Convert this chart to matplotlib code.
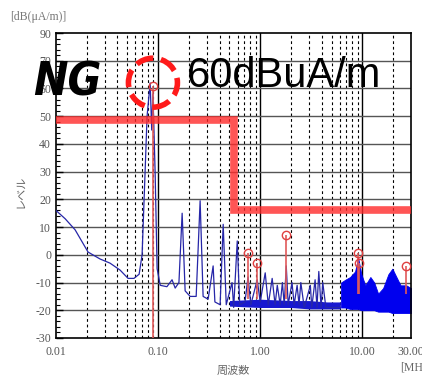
import numpy as np
import matplotlib.pyplot as plt
from matplotlib.patches import Circle
from matplotlib.transforms import ScaledTranslation
from matplotlib.ticker import FixedLocator, NullFormatter

# --------------------------
# data
# --------------------------
# main trace (MHz, dB(uA/m))
trace_f = [0.010, 0.0123, 0.0154, 0.0206, 0.027, 0.0338, 0.0424, 0.0508, 0.058, 0.0652,
           0.0697, 0.0746, 0.078, 0.0836, 0.0866, 0.089, 0.0935, 0.0978, 0.105, 0.122,
           0.137, 0.147, 0.160, 0.172, 0.184, 0.206, 0.236, 0.258, 0.276, 0.309,
           0.346, 0.360, 0.405, 0.434, 0.465, 0.530, 0.550, 0.596, 0.630, 0.710,
           0.760, 0.810, 0.935, 1.00, 1.12, 1.20, 1.31, 1.40, 1.47, 1.57,
           1.65, 1.72, 1.80, 1.88, 2.05, 2.15, 2.30, 2.40, 2.50, 2.70,
           3.10, 3.20, 3.45, 3.60, 3.75, 3.95, 4.10, 4.40, 5.40, 6.10]
trace_db = [16, 13, 9, 1, -1.5, -3, -5.5, -8.5, -8.5, -7,
            0, 30, 50, 62, 45, 58, 30, -5, -11, -11.5,
            -9, -12, -10, 15, -13, -15, -15, 19.5, -15, -16,
            -4, -17, -18, 11, -18, -10, -19, 5, -18, -17,
            -8, -18, -9, -17, -6.5, -18, -8.5, -18, -11, -18,
            -10, -18, -4, -18, -10, -18, -11, -18, -10, -19,
            -11, -19, -9, -19, -6, -19, -10, -19, -19, -19]

# noisy floor between 0.5 and 6 MHz
band_f = [0.5, 1.0, 2.0, 3.0, 4.5, 6.1]
band_hi = [-16.5, -16, -16.5, -16.5, -17, -17]
band_lo = [-18.5, -19, -19, -19.5, -19.5, -19.5]

# dense noise above 6 MHz (upper / lower envelope)
noise_f = [6.2, 6.8, 7.6, 8.5, 9.1, 9.8, 10.7, 12.0, 13.1, 14.3, 16.0, 18.0, 19.7, 21.6, 23.7, 27.0, 30.0]
noise_hi = [-10, -9, -8, -6, -1, -7, -11, -8, -10, -14, -12, -7, -5, -8, -11, -11, -12]
noise_lo = [-19, -19, -19.5, -19.5, -19.5, -20, -20, -20, -20, -20.5, -20.5, -20.5, -21, -21, -21, -21, -21]

# peak markers
mark_f = [0.089, 0.76, 0.935, 1.8, 9.1, 9.25, 27.0]
mark_db = [61, 0.8, -3, 7, 0.5, -3, -4]
mark_base = [-30, -16, -16, -16, -14, -14, -14]

# limit line
limit_f = [0.01, 0.55, 0.55, 30]
limit_db = [48.5, 48.5, 16, 16]

xtick_vals = [0.01, 0.1, 1, 10, 30]
xtick_labels = ['0.01', '0.10', '1.00', '10.00', '30.00']
ytick_vals = [-30, -20, -10, 0, 10, 20, 30, 40, 50, 60, 70, 80]
ytick_labels = ['-30', '-20', '-10', '0', '10', '20', '30', '40', '50', '60', '70', '90']

# --------------------------
# figure
# --------------------------
fig = plt.figure(figsize=(4.22, 3.77), dpi=100)
ax = fig.add_axes([56 / 422, 1 - 338 / 377, 355 / 422, 305 / 377])
ax.set_xscale('log')
ax.set_xlim(0.01, 30)
ax.set_ylim(-30, 80)

# grid
minor_x = [m * d for d in (0.01, 0.1, 1) for m in range(2, 10)] + [20]
for x in minor_x:
    ax.axvline(x, color='black', lw=0.8, ls=(0, (2.5, 2.5)), zorder=1)
for x in (0.1, 1, 10):
    ax.axvline(x, color='black', lw=1.0, zorder=1)
for y in range(-20, 80, 10):
    ax.axhline(y, color='#555555', lw=1.0, zorder=1)

# spectrum
ax.fill_between(band_f, band_lo, band_hi, color='#1818d0', lw=0, zorder=2)
ax.fill_between(noise_f, noise_lo, noise_hi, color='#0000ee', lw=0.6, edgecolor='#0000ee', zorder=2)
ax.plot(trace_f, trace_db, color='#2626a8', lw=0.9, zorder=3)

# markers
ax.vlines(mark_f, mark_base, mark_db, color='#e05a5a', lw=1.2, zorder=4)
ax.plot(mark_f, mark_db, 'o', mfc='none', mec='#e04040', ms=6, mew=1.0, zorder=5)

# limit line
ax.plot(limit_f, limit_db, color='#ff2a2a', lw=5.5, alpha=0.8, solid_joinstyle='miter', zorder=6)

# ticks
ax.xaxis.set_major_locator(FixedLocator(xtick_vals))
ax.set_xticklabels(xtick_labels)
ax.xaxis.set_minor_locator(FixedLocator(minor_x))
ax.xaxis.set_minor_formatter(NullFormatter())
ax.yaxis.set_major_locator(FixedLocator(ytick_vals))
ax.set_yticklabels(ytick_labels)
ax.yaxis.set_minor_locator(FixedLocator(np.arange(-30, 81, 2)))
ax.tick_params(axis='both', which='both', direction='in', color='black')
ax.tick_params(axis='y', which='major', length=5, width=1)
ax.tick_params(axis='y', which='minor', length=3, width=0.8)
ax.tick_params(axis='x', which='both', length=0, pad=6)
for lab in ax.get_xticklabels() + ax.get_yticklabels():
    lab.set_family('Liberation Serif')
    lab.set_fontsize(8.5)
    lab.set_color('#555555')
for s in ax.spines.values():
    s.set_color('black')
    s.set_linewidth(1.2)

# axis labels
cjk = ['Noto Sans CJK JP', 'DejaVu Sans']
ax.text(-0.1, 0.48, 'レベル', rotation=90, transform=ax.transAxes, ha='center', va='center',
        family=cjk, fontsize=8, color='#666666')
ax.text(0.5, -0.09, '周波数', transform=ax.transAxes, ha='center', va='top',
        family=cjk, fontsize=8, color='#666666')
fig.text(400 / 422, 1 - 368 / 377, '[MHz]', ha='left', va='center',
         family='Liberation Serif', fontsize=8.5, color='#666666')
fig.text(10 / 422, 1 - 17 / 377, '[dB(μA/m)]', ha='left', va='center',
         family='Liberation Serif', fontsize=8.5, color='#777777')
fig.text(0.52, 1.026, '測定結果：磁界ノイズのスペクトル', ha='center', va='center',
         family=cjk, fontsize=13, weight='bold', color='black')

# annotations
ax.text(-0.065, 0.835, 'NG', transform=ax.transAxes, ha='left', va='center',
        family='DejaVu Sans', fontstretch='condensed', fontsize=33, weight='bold',
        style='italic', color='black', zorder=8)
ax.text(0.37, 0.86, '60dBuA/m', transform=ax.transAxes, ha='left', va='center',
        family='Liberation Sans', fontsize=30, color='black', zorder=8)
ring = Circle((0, 0.03), 0.245, fill=False, ec='#ff1a1a', lw=4, ls=(0, (3.2, 1.4)),
              transform=fig.dpi_scale_trans + ScaledTranslation(mark_f[0], mark_db[0], ax.transData),
              zorder=9, clip_on=False)
ax.add_patch(ring)

fig.savefig('out.png', dpi=100)
